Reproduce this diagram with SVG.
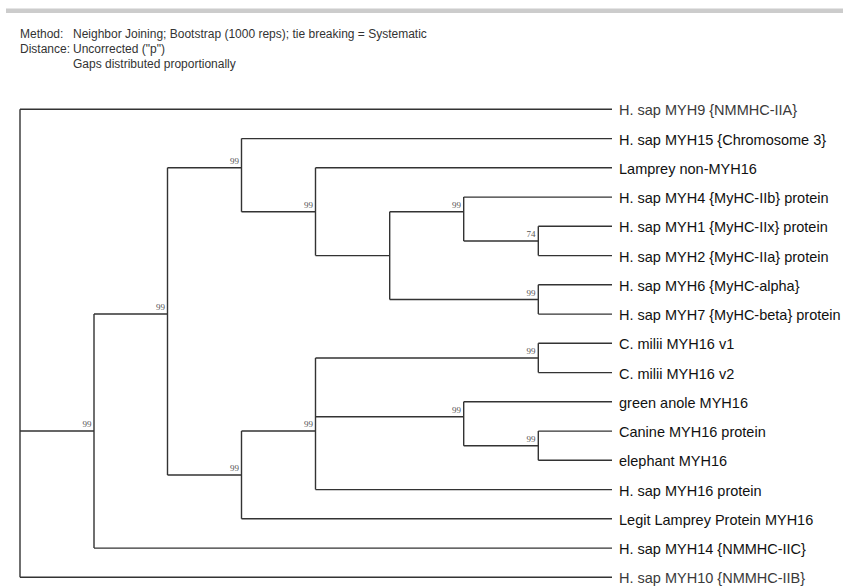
<svg xmlns="http://www.w3.org/2000/svg" width="843" height="587" viewBox="0 0 843 587">
<style>
.hdr{font-family:"Liberation Sans",Arial,sans-serif;font-size:12px;fill:#333}
.lbl{font-family:"Liberation Sans",Arial,sans-serif;font-size:14.5px;fill:#111}
.lbl2{font-family:"Liberation Sans",Arial,sans-serif;font-size:14.5px;fill:#3a3a3a}
.bs{font-family:"Liberation Serif","Times New Roman",serif;font-size:9px;fill:#555;text-anchor:end}
.br{fill:none;stroke:#333;stroke-width:1.4}
</style>
<rect x="6" y="8.5" width="837" height="4.5" fill="#cccccc"/>
<g id="header">
<text class="hdr" x="20" y="37.5">Method:</text>
<text class="hdr" x="73" y="37.5">Neighbor Joining; Bootstrap (1000 reps); tie breaking = Systematic</text>
<text class="hdr" x="20" y="52.7">Distance:</text>
<text class="hdr" x="73" y="52.7">Uncorrected ("p")</text>
<text class="hdr" x="73" y="67.7">Gaps distributed proportionally</text>
</g>
<g id="connectors" class="br">
<path d="M20,109.3V577.3"/>
<path d="M20,431H94V314M94,431V548.1"/>
<path d="M94,314H167.5V167.7M167.5,314V475"/>
<path d="M167.5,167.7H241.5V138.6M241.5,167.7V211.7"/>
<path d="M241.5,211.7H315.5V167.8M315.5,211.7V255.6"/>
<path d="M315.5,255.6H389.7V211.7M389.7,255.6V299.5"/>
<path d="M389.7,211.7H463.7V197.1M463.7,211.7V241"/>
<path d="M463.7,241H538.3V226.3M538.3,241V255.6"/>
<path d="M389.7,299.5H538.3V284.8M538.3,299.5V314.1"/>
<path d="M167.5,475H241.5V431M241.5,475V518.8"/>
<path d="M241.5,431H315.5V358M315.5,431V489.6"/>
<path d="M315.5,358H538.3V343.3M538.3,358V372.6"/>
<path d="M315.5,416.7H463.7V401.8M463.7,416.7V445.7"/>
<path d="M463.7,445.7H538.3V431.1M538.3,445.7V460.3"/>
<path d="M20,109.3H612"/>
<path d="M241.5,138.6H612"/>
<path d="M315.5,167.8H612"/>
<path d="M463.7,197.1H612"/>
<path d="M538.3,226.3H612"/>
<path d="M538.3,255.6H612"/>
<path d="M538.3,284.8H612"/>
<path d="M538.3,314.1H612"/>
<path d="M538.3,343.3H612"/>
<path d="M538.3,372.6H612"/>
<path d="M463.7,401.8H612"/>
<path d="M538.3,431.1H612"/>
<path d="M538.3,460.3H612"/>
<path d="M315.5,489.6H612"/>
<path d="M241.5,518.8H612"/>
<path d="M94,548.1H612"/>
<path d="M20,577.3H612"/>
</g>
<g id="leaf-myh9"><text class="lbl2" x="619" y="115.3">H. sap MYH9 {NMMHC-IIA}</text></g>
<g id="leaf-myh15"><text class="lbl" x="619" y="144.6">H. sap MYH15 {Chromosome 3}</text></g>
<g id="leaf-lamprey-non"><text class="lbl" x="619" y="173.8">Lamprey non-MYH16</text></g>
<g id="leaf-myh4"><text class="lbl" x="619" y="203.1">H. sap MYH4 {MyHC-IIb} protein</text></g>
<g id="leaf-myh1"><text class="lbl" x="619" y="232.3">H. sap MYH1 {MyHC-IIx} protein</text></g>
<g id="leaf-myh2"><text class="lbl" x="619" y="261.6">H. sap MYH2 {MyHC-IIa} protein</text></g>
<g id="leaf-myh6"><text class="lbl" x="619" y="290.8">H. sap MYH6 {MyHC-alpha}</text></g>
<g id="leaf-myh7"><text class="lbl" x="619" y="320.1">H. sap MYH7 {MyHC-beta} protein</text></g>
<g id="leaf-cmilii-v1"><text class="lbl" x="619" y="349.3">C. milii MYH16 v1</text></g>
<g id="leaf-cmilii-v2"><text class="lbl" x="619" y="378.6">C. milii MYH16 v2</text></g>
<g id="leaf-anole"><text class="lbl" x="619" y="407.8">green anole MYH16</text></g>
<g id="leaf-canine"><text class="lbl" x="619" y="437.1">Canine MYH16 protein</text></g>
<g id="leaf-elephant"><text class="lbl" x="619" y="466.3">elephant MYH16</text></g>
<g id="leaf-myh16"><text class="lbl" x="619" y="495.6">H. sap MYH16 protein</text></g>
<g id="leaf-legit-lamprey"><text class="lbl" x="619" y="524.8">Legit Lamprey Protein MYH16</text></g>
<g id="leaf-myh14"><text class="lbl" x="619" y="554.1">H. sap MYH14 {NMMHC-IIC}</text></g>
<g id="leaf-myh10"><text class="lbl2" x="619" y="583.3">H. sap MYH10 {NMMHC-IIB}</text></g>
<g id="node-A"><text class="bs" x="91.5" y="427">99</text></g>
<g id="node-B"><text class="bs" x="165" y="310">99</text></g>
<g id="node-C"><text class="bs" x="239" y="163.7">99</text></g>
<g id="node-D"><text class="bs" x="313" y="207.7">99</text></g>
<g id="node-F"><text class="bs" x="461" y="207.7">99</text></g>
<g id="node-G"><text class="bs" x="535.5" y="237">74</text></g>
<g id="node-H"><text class="bs" x="535.5" y="295.5">99</text></g>
<g id="node-I"><text class="bs" x="239" y="471">99</text></g>
<g id="node-J"><text class="bs" x="313" y="427">99</text></g>
<g id="node-K"><text class="bs" x="535.5" y="354">99</text></g>
<g id="node-L"><text class="bs" x="461" y="412.7">99</text></g>
<g id="node-M"><text class="bs" x="535.5" y="441.7">99</text></g>
</svg>
